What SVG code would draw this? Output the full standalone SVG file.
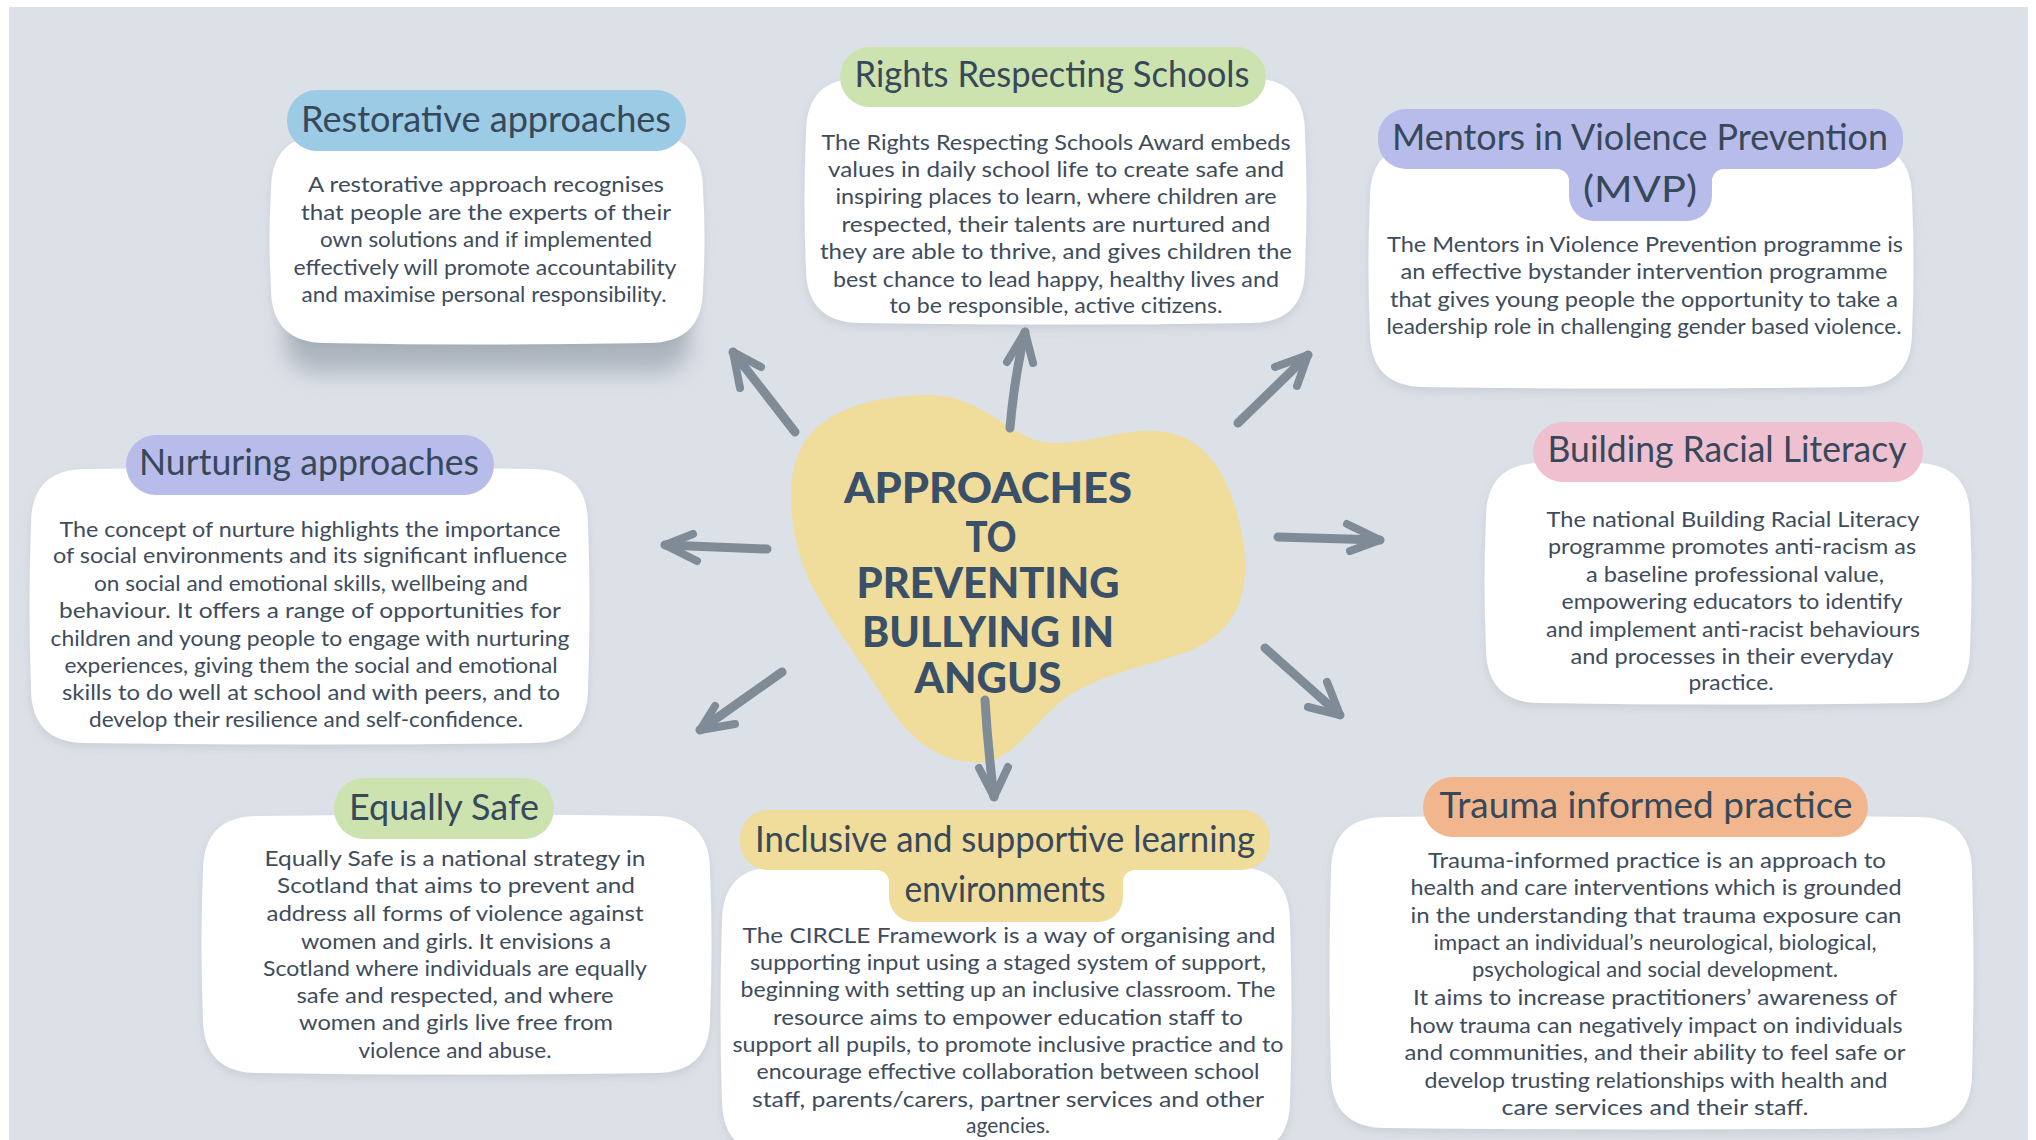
<svg xmlns="http://www.w3.org/2000/svg" width="2036" height="1140" viewBox="0 0 2036 1140">
  <defs>
    <filter id="soft" x="-10%" y="-10%" width="120%" height="130%">
      <feDropShadow dx="0" dy="4" stdDeviation="4" flood-color="#8a949f" flood-opacity="0.22"/>
    </filter>
    <filter id="blurShadow" x="-20%" y="-60%" width="140%" height="220%">
      <feGaussianBlur stdDeviation="11"/>
    </filter>
  </defs>
  <style>
    .card { fill: #ffffff; filter: url(#soft); }
    .title { font-family: Lato, "Open Sans", "Liberation Sans", sans-serif; font-size: 36px; fill: #374859; text-anchor: middle; }
    .body { font-family: Lato, "Open Sans", "Liberation Sans", sans-serif; font-size: 21px; fill: #3e4c5b; text-anchor: middle; }
    .hero { font-family: Lato, "Open Sans", "Liberation Sans", sans-serif; font-weight: 900; font-size: 42px; fill: #3a5068; text-anchor: middle; }
    .shaft { fill: none; stroke: #7f8b96; stroke-width: 9; stroke-linecap: round; stroke-linejoin: round; }
    .head { fill: none; stroke: #7f8b96; stroke-width: 8; stroke-linecap: round; stroke-linejoin: round; }
  </style>

  <!-- canvas -->
  <rect x="0" y="0" width="2036" height="1140" fill="#ffffff"/>
  <rect x="9" y="7" width="2019" height="1133" fill="#dce0e7"/>

  <!-- central blob -->
  <g id="centre">
    <path d="M 925 395 C 975 393, 1005 430, 1035 440 C 1075 452, 1120 425, 1165 432 C 1215 440, 1234 490, 1243 540 C 1252 600, 1232 632, 1192 650 C 1142 668, 1092 676, 1060 702 C 1030 728, 1012 760, 982 762 C 935 765, 905 732, 886 702 C 862 662, 830 622, 810 582 C 790 540, 784 482, 800 450 C 820 410, 870 397, 925 395 Z" fill="#f0dc9b"/>
    <text class="hero" x="988" y="503" textLength="288" lengthAdjust="spacingAndGlyphs">APPROACHES</text>
    <text class="hero" x="991" y="552" textLength="51" lengthAdjust="spacingAndGlyphs">TO</text>
    <text class="hero" x="988" y="598" textLength="263" lengthAdjust="spacingAndGlyphs">PREVENTING</text>
    <text class="hero" x="988" y="647" textLength="252" lengthAdjust="spacingAndGlyphs">BULLYING IN</text>
    <text class="hero" x="988" y="693" textLength="147" lengthAdjust="spacingAndGlyphs">ANGUS</text>
  </g>

  <!-- connectors -->
  <g id="connectors">
    <path class="shaft" d="M 795 432 L 733 352"/>
    <path class="head" d="M 740 388 L 733 352 L 761 367"/>
    <path class="shaft" d="M 1010 428 Q 1014 380 1025 332"/>
    <path class="head" d="M 1007 362 L 1025 332 L 1033 363"/>
    <path class="shaft" d="M 1238 423 L 1308 355"/>
    <path class="head" d="M 1275 367 L 1308 355 L 1297 386"/>
    <path class="shaft" d="M 1278 537 L 1380 540"/>
    <path class="head" d="M 1347 524 L 1380 540 L 1350 551"/>
    <path class="shaft" d="M 1265 648 L 1340 715"/>
    <path class="head" d="M 1327 682 L 1340 715 L 1308 707"/>
    <path class="shaft" d="M 767 549 L 665 545"/>
    <path class="head" d="M 693 534 L 665 545 L 697 561"/>
    <path class="shaft" d="M 782 672 L 700 730"/>
    <path class="head" d="M 715 706 L 700 730 L 735 724"/>
    <path class="shaft" d="M 985 700 Q 988 750 994 797"/>
    <path class="head" d="M 979 768 L 994 797 L 1008 767"/>
  </g>

  <!-- Restorative approaches -->
  <g id="restorative">
    <rect x="285" y="310" width="405" height="62" rx="30" fill="#8e98a3" opacity="0.6" filter="url(#blurShadow)"/>
    <path class="card" d="M 326 135 Q 487 132 648 135 Q 703 135 703 190 Q 706 239 703 288 Q 703 343 648 343 Q 487 346 326 343 Q 271 343 271 288 Q 268 239 271 190 Q 271 135 326 135 Z"/>
    <rect x="287" y="90" width="399" height="61" rx="30" fill="#9ccbe6"/>
    <text class="title" x="486" y="132" textLength="370" lengthAdjust="spacingAndGlyphs">Restorative approaches</text>
    <text class="body" x="486" y="192" textLength="356" lengthAdjust="spacingAndGlyphs">A restorative approach recognises</text>
    <text class="body" x="486" y="220" textLength="370" lengthAdjust="spacingAndGlyphs">that people are the experts of their</text>
    <text class="body" x="486" y="247" textLength="332" lengthAdjust="spacingAndGlyphs">own solutions and if implemented</text>
    <text class="body" x="485" y="275" textLength="383" lengthAdjust="spacingAndGlyphs">effectively will promote accountability</text>
    <text class="body" x="484" y="302" textLength="365" lengthAdjust="spacingAndGlyphs">and maximise personal responsibility.</text>
  </g>

  <!-- Rights Respecting Schools -->
  <g id="rights-respecting">
    <path class="card" d="M 861 78 Q 1056 75 1250 78 Q 1305 78 1305 133 Q 1308 200 1305 268 Q 1305 323 1250 323 Q 1056 326 861 323 Q 806 323 806 268 Q 803 200 806 133 Q 806 78 861 78 Z"/>
    <rect x="840" y="47" width="426" height="60" rx="30" fill="#cce3b0"/>
    <text class="title" x="1052" y="87" textLength="395" lengthAdjust="spacingAndGlyphs">Rights Respecting Schools</text>
    <text class="body" x="1056" y="150" textLength="469" lengthAdjust="spacingAndGlyphs">The Rights Respecting Schools Award embeds</text>
    <text class="body" x="1056" y="177" textLength="456" lengthAdjust="spacingAndGlyphs">values in daily school life to create safe and</text>
    <text class="body" x="1056" y="204" textLength="441" lengthAdjust="spacingAndGlyphs">inspiring places to learn, where children are</text>
    <text class="body" x="1056" y="232" textLength="429" lengthAdjust="spacingAndGlyphs">respected, their talents are nurtured and</text>
    <text class="body" x="1056" y="259" textLength="472" lengthAdjust="spacingAndGlyphs">they are able to thrive, and gives children the</text>
    <text class="body" x="1056" y="287" textLength="446" lengthAdjust="spacingAndGlyphs">best chance to lead happy, healthy lives and</text>
    <text class="body" x="1056" y="313" textLength="333" lengthAdjust="spacingAndGlyphs">to be responsible, active citizens.</text>
  </g>

  <!-- Mentors in Violence Prevention -->
  <g id="mvp">
    <path class="card" d="M 1425 143 Q 1641 140 1857 143 Q 1912 143 1912 198 Q 1915 265 1912 332 Q 1912 387 1857 387 Q 1641 390 1425 387 Q 1370 387 1370 332 Q 1367 265 1370 198 Q 1370 143 1425 143 Z"/>
    <path d="M 1406 109 H 1875 A 28 28 0 0 1 1903 137 V 141 A 28 28 0 0 1 1875 169 H 1724 A 12 12 0 0 0 1712 181 V 196 A 25 25 0 0 1 1687 221 H 1594 A 25 25 0 0 1 1569 196 V 181 A 12 12 0 0 0 1557 169 H 1406 A 28 28 0 0 1 1378 141 V 137 A 28 28 0 0 1 1406 109 Z" fill="#b8bceb"/>
    <text class="title" x="1640" y="150" textLength="496" lengthAdjust="spacingAndGlyphs">Mentors in Violence Prevention</text>
    <text class="title" x="1640" y="202" textLength="114" lengthAdjust="spacingAndGlyphs">(MVP)</text>
    <text class="body" x="1645" y="252" textLength="516" lengthAdjust="spacingAndGlyphs">The Mentors in Violence Prevention programme is</text>
    <text class="body" x="1644" y="279" textLength="487" lengthAdjust="spacingAndGlyphs">an effective bystander intervention programme</text>
    <text class="body" x="1644" y="307" textLength="508" lengthAdjust="spacingAndGlyphs">that gives young people the opportunity to take a</text>
    <text class="body" x="1644" y="334" textLength="515" lengthAdjust="spacingAndGlyphs">leadership role in challenging gender based violence.</text>
  </g>

  <!-- Nurturing approaches -->
  <g id="nurturing">
    <path class="card" d="M 86 469 Q 310 466 533 469 Q 588 469 588 524 Q 591 606 588 688 Q 588 743 533 743 Q 310 746 86 743 Q 31 743 31 688 Q 28 606 31 524 Q 31 469 86 469 Z"/>
    <rect x="126" y="435" width="368" height="60" rx="30" fill="#b8bceb"/>
    <text class="title" x="309" y="475" textLength="340" lengthAdjust="spacingAndGlyphs">Nurturing approaches</text>
    <text class="body" x="310" y="537" textLength="501" lengthAdjust="spacingAndGlyphs">The concept of nurture highlights the importance</text>
    <text class="body" x="310" y="563" textLength="514" lengthAdjust="spacingAndGlyphs">of social environments and its significant influence</text>
    <text class="body" x="311" y="591" textLength="434" lengthAdjust="spacingAndGlyphs">on social and emotional skills, wellbeing and</text>
    <text class="body" x="310" y="618" textLength="502" lengthAdjust="spacingAndGlyphs">behaviour. It offers a range of opportunities for</text>
    <text class="body" x="310" y="646" textLength="519" lengthAdjust="spacingAndGlyphs">children and young people to engage with nurturing</text>
    <text class="body" x="311" y="673" textLength="493" lengthAdjust="spacingAndGlyphs">experiences, giving them the social and emotional</text>
    <text class="body" x="311" y="700" textLength="498" lengthAdjust="spacingAndGlyphs">skills to do well at school and with peers, and to</text>
    <text class="body" x="306" y="727" textLength="434" lengthAdjust="spacingAndGlyphs">develop their resilience and self-confidence.</text>
  </g>

  <!-- Building Racial Literacy -->
  <g id="racial-literacy">
    <path class="card" d="M 1541 463 Q 1728 460 1915 463 Q 1970 463 1970 518 Q 1973 583 1970 648 Q 1970 703 1915 703 Q 1728 706 1541 703 Q 1486 703 1486 648 Q 1483 583 1486 518 Q 1486 463 1541 463 Z"/>
    <rect x="1533" y="422" width="390" height="60" rx="30" fill="#eec0d0"/>
    <text class="title" x="1727" y="462" textLength="359" lengthAdjust="spacingAndGlyphs">Building Racial Literacy</text>
    <text class="body" x="1733" y="527" textLength="373" lengthAdjust="spacingAndGlyphs">The national Building Racial Literacy</text>
    <text class="body" x="1732" y="554" textLength="368" lengthAdjust="spacingAndGlyphs">programme promotes anti-racism as</text>
    <text class="body" x="1735" y="582" textLength="298" lengthAdjust="spacingAndGlyphs">a baseline professional value,</text>
    <text class="body" x="1732" y="609" textLength="341" lengthAdjust="spacingAndGlyphs">empowering educators to identify</text>
    <text class="body" x="1733" y="637" textLength="374" lengthAdjust="spacingAndGlyphs">and implement anti-racist behaviours</text>
    <text class="body" x="1732" y="664" textLength="323" lengthAdjust="spacingAndGlyphs">and processes in their everyday</text>
    <text class="body" x="1731" y="690" textLength="85" lengthAdjust="spacingAndGlyphs">practice.</text>
  </g>

  <!-- Equally Safe -->
  <g id="equally-safe">
    <path class="card" d="M 258 816 Q 456 813 655 816 Q 710 816 710 871 Q 713 944 710 1018 Q 710 1073 655 1073 Q 456 1076 258 1073 Q 203 1073 203 1018 Q 200 944 203 871 Q 203 816 258 816 Z"/>
    <rect x="334" y="778" width="220" height="61" rx="30" fill="#cce3b0"/>
    <text class="title" x="444" y="820" textLength="190" lengthAdjust="spacingAndGlyphs">Equally Safe</text>
    <text class="body" x="455" y="866" textLength="381" lengthAdjust="spacingAndGlyphs">Equally Safe is a national strategy in</text>
    <text class="body" x="456" y="893" textLength="358" lengthAdjust="spacingAndGlyphs">Scotland that aims to prevent and</text>
    <text class="body" x="455" y="921" textLength="377" lengthAdjust="spacingAndGlyphs">address all forms of violence against</text>
    <text class="body" x="456" y="949" textLength="310" lengthAdjust="spacingAndGlyphs">women and girls. It envisions a</text>
    <text class="body" x="455" y="976" textLength="384" lengthAdjust="spacingAndGlyphs">Scotland where individuals are equally</text>
    <text class="body" x="455" y="1003" textLength="317" lengthAdjust="spacingAndGlyphs">safe and respected, and where</text>
    <text class="body" x="456" y="1030" textLength="314" lengthAdjust="spacingAndGlyphs">women and girls live free from</text>
    <text class="body" x="455" y="1058" textLength="193" lengthAdjust="spacingAndGlyphs">violence and abuse.</text>
  </g>

  <!-- Inclusive and supportive learning environments -->
  <g id="inclusive">
    <path class="card" d="M 777 867 Q 1006 864 1235 867 Q 1290 867 1290 922 Q 1293 1011 1290 1100 Q 1290 1155 1235 1155 Q 1006 1158 777 1155 Q 722 1155 722 1100 Q 719 1011 722 922 Q 722 867 777 867 Z"/>
    <path d="M 768 810 H 1242 A 28 28 0 0 1 1270 838 V 842 A 28 28 0 0 1 1242 870 H 1135 A 12 12 0 0 0 1123 882 V 897 A 25 25 0 0 1 1098 922 H 914 A 25 25 0 0 1 889 897 V 882 A 12 12 0 0 0 877 870 H 768 A 28 28 0 0 1 740 842 V 838 A 28 28 0 0 1 768 810 Z" fill="#f0dc9b"/>
    <text class="title" x="1005" y="852" textLength="500" lengthAdjust="spacingAndGlyphs">Inclusive and supportive learning</text>
    <text class="title" x="1005" y="902" textLength="201" lengthAdjust="spacingAndGlyphs">environments</text>
    <text class="body" x="1009" y="943" textLength="533" lengthAdjust="spacingAndGlyphs">The CIRCLE Framework is a way of organising and</text>
    <text class="body" x="1008" y="970" textLength="516" lengthAdjust="spacingAndGlyphs">supporting input using a staged system of support,</text>
    <text class="body" x="1008" y="997" textLength="535" lengthAdjust="spacingAndGlyphs">beginning with setting up an inclusive classroom. The</text>
    <text class="body" x="1008" y="1025" textLength="470" lengthAdjust="spacingAndGlyphs">resource aims to empower education staff to</text>
    <text class="body" x="1008" y="1052" textLength="551" lengthAdjust="spacingAndGlyphs">support all pupils, to promote inclusive practice and to</text>
    <text class="body" x="1008" y="1079" textLength="503" lengthAdjust="spacingAndGlyphs">encourage effective collaboration between school</text>
    <text class="body" x="1008" y="1107" textLength="512" lengthAdjust="spacingAndGlyphs">staff, parents/carers, partner services and other</text>
    <text class="body" x="1008" y="1133" textLength="84" lengthAdjust="spacingAndGlyphs">agencies.</text>
  </g>

  <!-- Trauma informed practice -->
  <g id="trauma-informed">
    <path class="card" d="M 1386 817 Q 1652 814 1917 817 Q 1972 817 1972 872 Q 1975 972 1972 1073 Q 1972 1128 1917 1128 Q 1652 1131 1386 1128 Q 1331 1128 1331 1073 Q 1328 972 1331 872 Q 1331 817 1386 817 Z"/>
    <rect x="1423" y="777" width="445" height="60" rx="30" fill="#f2b68e"/>
    <text class="title" x="1646" y="818" textLength="413" lengthAdjust="spacingAndGlyphs">Trauma informed practice</text>
    <text class="body" x="1657" y="868" textLength="458" lengthAdjust="spacingAndGlyphs">Trauma-informed practice is an approach to</text>
    <text class="body" x="1656" y="895" textLength="491" lengthAdjust="spacingAndGlyphs">health and care interventions which is grounded</text>
    <text class="body" x="1656" y="923" textLength="491" lengthAdjust="spacingAndGlyphs">in the understanding that trauma exposure can</text>
    <text class="body" x="1655" y="950" textLength="443" lengthAdjust="spacingAndGlyphs">impact an individual’s neurological, biological,</text>
    <text class="body" x="1655" y="977" textLength="366" lengthAdjust="spacingAndGlyphs">psychological and social development.</text>
    <text class="body" x="1655" y="1005" textLength="484" lengthAdjust="spacingAndGlyphs">It aims to increase practitioners’ awareness of</text>
    <text class="body" x="1656" y="1033" textLength="493" lengthAdjust="spacingAndGlyphs">how trauma can negatively impact on individuals</text>
    <text class="body" x="1655" y="1060" textLength="501" lengthAdjust="spacingAndGlyphs">and communities, and their ability to feel safe or</text>
    <text class="body" x="1656" y="1088" textLength="463" lengthAdjust="spacingAndGlyphs">develop trusting relationships with health and</text>
    <text class="body" x="1655" y="1115" textLength="307" lengthAdjust="spacingAndGlyphs">care services and their staff.</text>
  </g>
</svg>
